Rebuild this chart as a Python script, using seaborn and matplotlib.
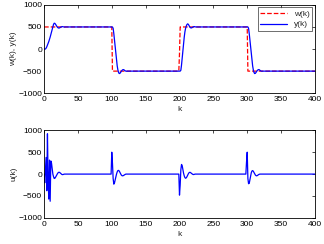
import numpy as np
import pandas as pd
import seaborn as sns
import matplotlib
matplotlib.use("Agg")
import matplotlib.pyplot as plt

# reference signal w(k): levels and switching points
w_levels = [500, -500, 500, -500]
w_switch = [0, 101, 201, 301]
w_notch = {200: -100}

# output y(k) transients (k offset, values), settled value otherwise
y_start0 = 0
y_seg0 = [0, 0, 0, 20, 50, 90, 130, 170, 220, 270, 330, 390, 450, 510, 560, 585, 580,
          560, 535, 510, 490, 478, 475, 480, 490, 500, 505, 508, 505, 500, 498, 500]
y_start1 = 100
y_seg1 = [500, 500, 470, 350, 200, 50, -100, -250, -380, -470, -530, -555, -550, -530,
          -505, -485, -470, -465, -470, -485, -495, -502, -500]
y_start2 = 200
y_seg2 = [-500, -500, -480, -360, -200, -40, 120, 270, 390, 470, 520, 555, 570, 560,
          535, 505, 485, 478, 480, 490, 500, 506, 508, 504, 500]
y_start3 = 300
y_seg3 = [500, 500, 470, 350, 200, 50, -100, -250, -380, -470, -530, -555, -550, -530,
          -505, -485, -470, -465, -470, -485, -495, -502, -500]

# control u(k) transients
u_start0 = 0
u_seg0 = [0, -200, 100, 380, -380, 920, -150, -570, 320, -620, 300, 250, 120, 0, -60,
          -100, -95, -70, -40, -10, 15, 35, 42, 38, 25, 10, -5, -12, -10, -5, 0]
u_start1 = 99
u_seg1 = [0, 500, 250, -100, -230, -200, -130, -60, 0, 50, 80, 85, 70, 40, 10, -20,
          -35, -40, -35, -25, -15, -5, 0]
u_start2 = 199
u_seg2 = [0, -480, -250, 100, 220, 190, 100, 20, -40, -80, -95, -85, -60, -25, 5, 30,
          40, 38, 25, 12, 0, -8, -10, -5, 0]
u_start3 = 298
u_seg3 = [0, 280, 500, -100, -220, -210, -130, -40, 30, 70, 80, 65, 35, 5, -20, -35,
          -40, -32, -20, -10, -3, 0]

k = np.arange(0, 401)

w = np.zeros(len(k))
for s, lv in zip(w_switch, w_levels):
    w[s:] = lv
for kk, v in w_notch.items():
    w[kk] = v

y = w.copy()
y[:y_start1] = 500
for s, seg in [(y_start0, y_seg0), (y_start1, y_seg1), (y_start2, y_seg2), (y_start3, y_seg3)]:
    y[s:s + len(seg)] = seg

u = np.zeros(len(k))
for s, seg in [(u_start0, u_seg0), (u_start1, u_seg1), (u_start2, u_seg2), (u_start3, u_seg3)]:
    u[s:s + len(seg)] = seg

df = pd.DataFrame({"k": k, "w": w, "y": y, "u": u})

sns.set_style("white")
plt.rcParams["font.family"] = ["Liberation Sans", "DejaVu Sans"]
plt.rcParams["font.size"] = 6
plt.rcParams["xtick.direction"] = "in"
plt.rcParams["ytick.direction"] = "in"
plt.rcParams["xtick.major.size"] = 2.5
plt.rcParams["ytick.major.size"] = 2.5
plt.rcParams["xtick.major.pad"] = 2
plt.rcParams["ytick.major.pad"] = 1.5

fig = plt.figure(figsize=(3.24, 2.44), dpi=100)
ax1 = fig.add_axes([0.136, 0.618, 0.836, 0.362])
ax2 = fig.add_axes([0.136, 0.107, 0.836, 0.359])

sns.lineplot(data=df, x="k", y="w", ax=ax1, color="red", lw=0.9, linestyle="--", label="w(k)")
sns.lineplot(data=df, x="k", y="y", ax=ax1, color="blue", lw=0.9, label="y(k)")
sns.lineplot(data=df, x="k", y="u", ax=ax2, color="blue", lw=0.9, legend=False)

for ax in (ax1, ax2):
    ax.set_xlim(0, 400)
    ax.set_ylim(-1000, 1000)
    ax.set_xticks(range(0, 401, 50))
    ax.set_yticks([-1000, -500, 0, 500, 1000])
    ax.tick_params(top=True, right=True, labelsize=6, width=0.5, colors="black")
    for sp in ax.spines.values():
        sp.set_visible(True)
        sp.set_linewidth(0.6)
        sp.set_color("black")
    ax.set_xlabel("k", fontsize=6, labelpad=2.5)

ax1.set_ylabel("w(k), y(k)", fontsize=6, labelpad=0.5)
ax2.set_ylabel("u(k)", fontsize=6, labelpad=0.5)

leg = ax1.legend(loc="upper right", fontsize=6, frameon=True, fancybox=False,
                 borderpad=0.35, handlelength=3.2, borderaxespad=0.3, labelspacing=0.3)
leg.get_frame().set_edgecolor("black")
leg.get_frame().set_linewidth(0.5)

fig.savefig("out.png", dpi=100)
